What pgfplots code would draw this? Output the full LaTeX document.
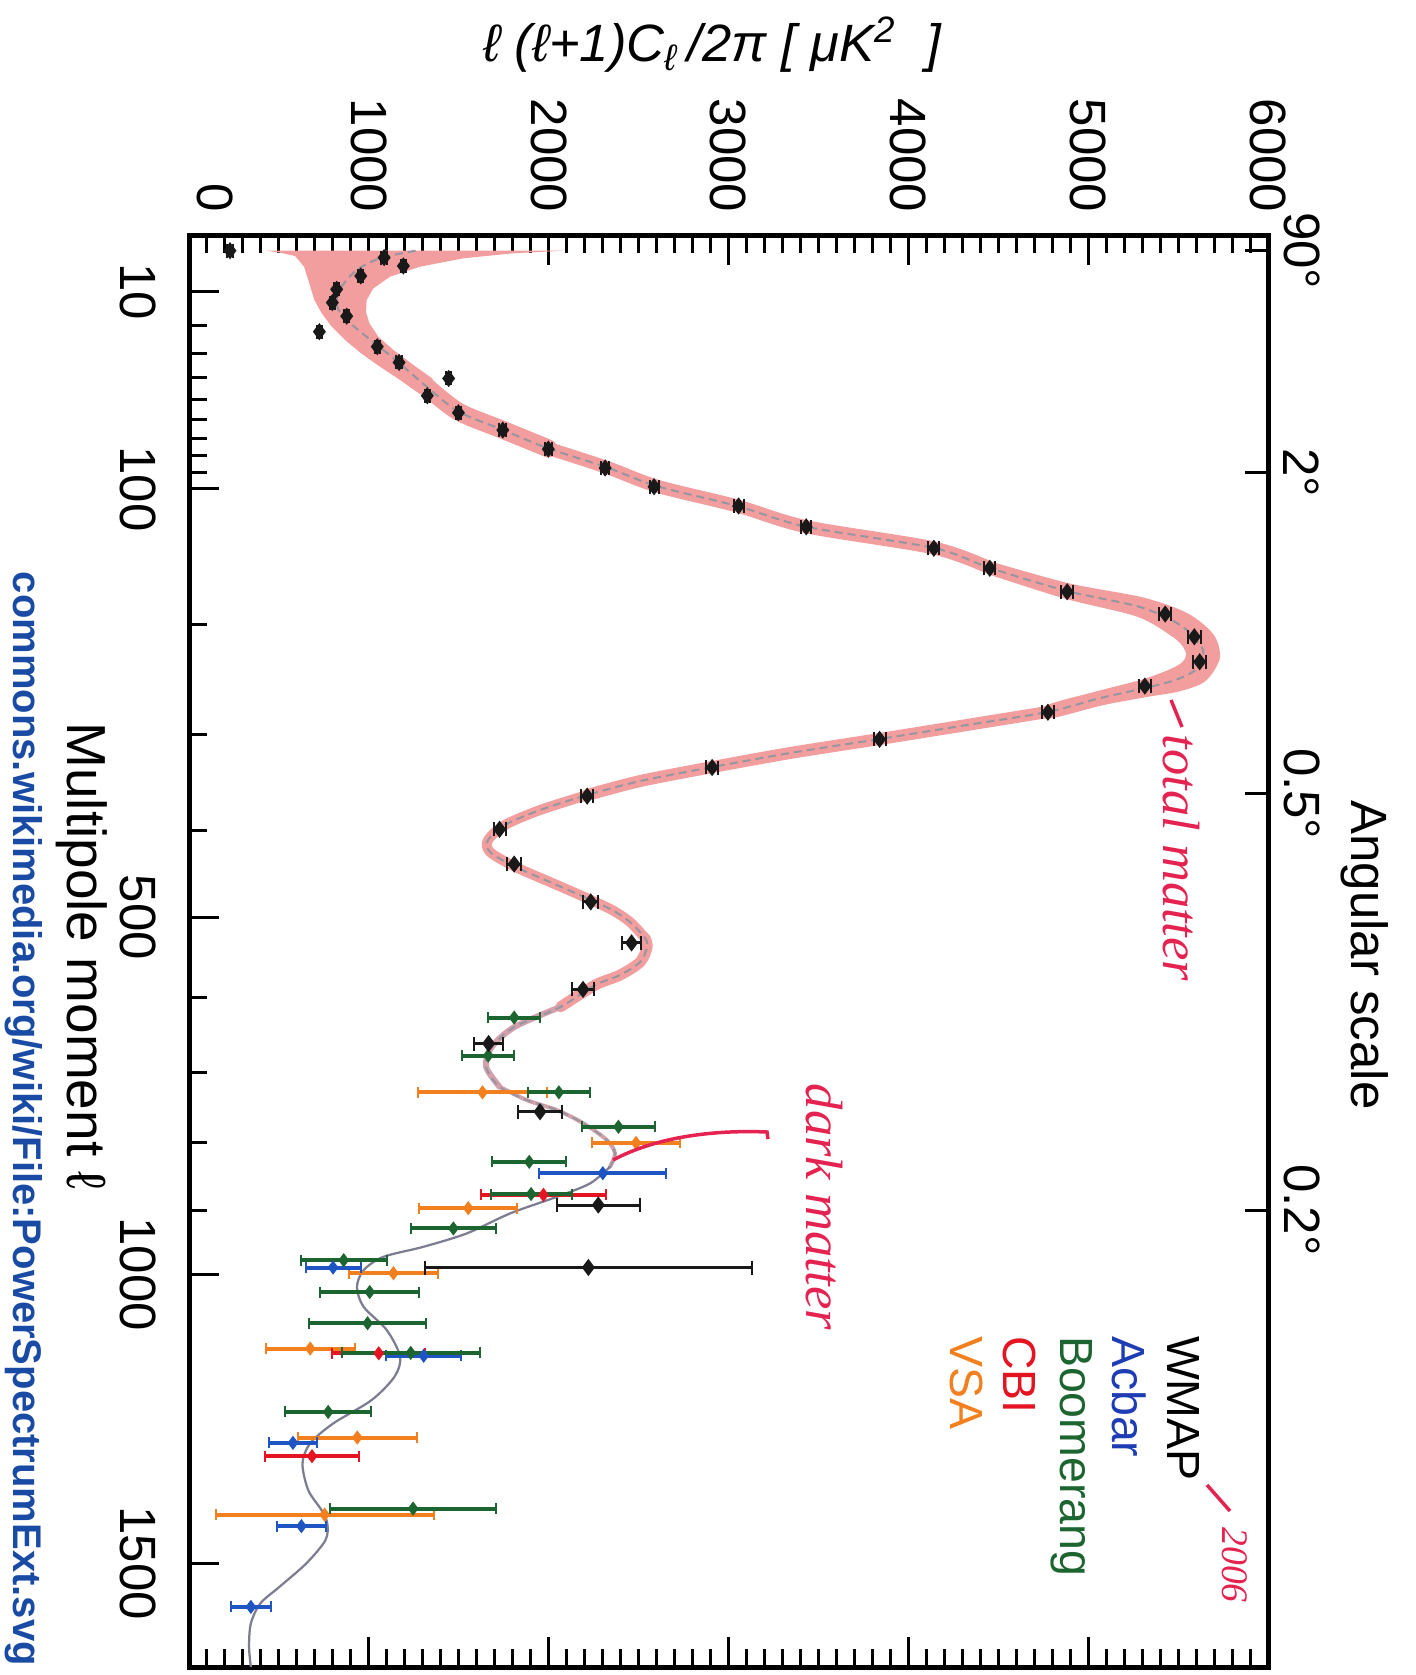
\documentclass[border=0pt]{standalone}
\usepackage{pgfplots}
\pgfplotsset{compat=1.18}
\usepackage{fontspec}
\setmainfont{Liberation Sans}
\newfontfamily\hand{Liberation Serif}
\definecolor{wmapc}{RGB}{25,25,25}
\definecolor{acbarc}{RGB}{30,85,195}
\definecolor{acbartxt}{RGB}{30,60,180}
\definecolor{boomc}{RGB}{28,100,48}
\definecolor{cbic}{RGB}{228,20,35}
\definecolor{vsac}{RGB}{242,128,30}
\definecolor{bandc}{RGB}{242,158,158}
\definecolor{bandthin}{RGB}{212,160,172}
\definecolor{modelc}{RGB}{125,125,145}
\definecolor{modeltop}{RGB}{150,150,160}
\definecolor{inkc}{RGB}{228,35,80}
\definecolor{urlc}{RGB}{25,75,165}
\newcommand\PX[2]{({((#1)-189)*0.2pt},{(235-(#2))*0.2pt})}
\begin{document}
\begin{tikzpicture}
\path[use as bounding box] \PX{0}{0} rectangle \PX{1415}{1675};
\begin{axis}[
  at={(0pt,0pt)}, anchor=north west,
  scale only axis, width=215.8pt, height=286.4pt,
  xmin=0, xmax=6000, ymin=0.394, ymax=1699,
  y dir=reverse,
  y coord trafo/.code={\pgfmathparse{(#1)^0.6}},
  axis line style={line width=1pt},
  xtick={0,1000,2000,3000,4000,5000,6000},
  xticklabels={\raisebox{1.7pt}[0pt][0pt]{0},1000,2000,3000,4000,5000,6000},
  minor x tick num=9,
  xticklabel pos=upper,
  ytick={10,100,500,1000,1500},
  yticklabels={10,100,500,1000,1500},
  minor ytick={20,30,40,50,60,70,80,90,200,300,400,600,700,800,900},
  ytick pos=left,
  tick align=inside,
  major tick length=6pt, minor tick length=3.6pt,
  tick style={black, line width=0.6pt},
  tick label style={font=\fontsize{10.2}{12}\selectfont},
  xticklabel style={rotate=-90, anchor=east},
  yticklabel style={rotate=-90, anchor=north},
  yticklabel shift=3pt,
  xticklabel shift=1pt,
  extra y ticks={2,90,360,900},
  extra y tick labels={90°,2°,0.5°,0.2°},
  extra y tick style={ytick pos=right, yticklabel pos=right, major tick length=4.6pt,
     yticklabel shift=-0.4pt, yticklabel style={anchor=south}},
  bandline/.style={bandc, line cap=round, line join=round, no markers, smooth},
]
% cosmic-variance band, low multipoles
\addplot[fill=bandc, draw=none] coordinates {
 (432,2) (2082,2) (1804,2.357) (1526,3.105) (1285,4.54) (1118,6.52) (1025,9.17) (988,12.19)
 (984,15.54) (1003,19.18) (1053,23.76) (1137,28.68) (1248,34.67) (1357,40.66)
 (1286,47.63) (1174,41.11) (1062,35.38) (957,29.96) (868,24.94) (794,20.30) (738,16.03)
 (697,12.19) (669,7.98) (640,4.54) (590,2.75) (506,2.27)
} -- cycle;
\addplot[bandline, line width=3.6pt] coordinates {(1322,44.1) (1498,56.0) (1748,65.6) (1998,75.7)};
\addplot[bandline, line width=2.6pt] coordinates {(1998,75.7) (2323,86.7) (2601,98.2) (3048,111) (3432,125) (4143,140.1) (4455,154.9)};
% band around the first peak
\addplot[fill=bandc, draw=none, smooth] coordinates {
 (4466,150.3) (4894,166.6) (5305,177.7) (5553,190.5) (5698,208.4) (5732,228.8) (5651,249.3)
 (5507,258.6) (5329,263.7) (5077,271.7) (4779,284.2)
 (4765,272.0) (5057,258.1) (5305,247.5) (5461,238.0) (5523,232.1) (5545,225.9) (5528,218.9)
 (5470,210.2) (5273,193.3) (4872,178.7) (4444,159.6)
} -- cycle;
\addplot[bandline, line width=2.4pt] coordinates {(4772,278.0) (4288,291.5) (3838,304.2) (3343,318.1) (2909,332.4) (2508,346.8) (2214,361.5)};
\addplot[bandline, line width=2pt] coordinates {(2214,361.5) (1952,377.5) (1757,393.7) (1663,410.3) (1674,423.7) (1813,440.4) (2008,458.1) (2195,475.3) (2353,491.1) (2453,505.6) (2536,525.1)};
\addplot[bandline, line width=2.2pt] coordinates {(2536,525.1) (2547,536.2) (2508,554.9) (2397,571.3) (2258,584.1) (2067,612.2)};
\addplot[bandline, bandthin, line width=1.2pt] coordinates {(2067,612.2) (1812,638.5) (1684,665.3) (1652,692.5) (1727,720.2)};
\addplot[bandline, bandthin, line width=0.8pt] coordinates {(1727,720.2) (1877,738.7) (2045,752.9) (2193,771.8) (2323,795.9) (2369,815.4) (2341,835.0)};
% model curve
\addplot[modeltop, line width=0.4pt, dash pattern=on 1.6pt off 1pt, smooth, no markers] coordinates {
 (1260,2) (1062,3.1) (933,5.17) (849,8.78) (821,13.1) (858,17.1) (988,23.8) (1137,31.9)
 (1322,44.1) (1498,56.0) (1748,65.6) (1998,75.7) (2323,86.7) (2601,98.2) (3048,111) (3432,125)
 (4143,140.1) (4455,154.9) (4883,172.6) (5289,185.4) (5512,200.2) (5623,217.2) (5640,225.9)
 (5595,239.2) (5484,248.2) (5317,255.5) (5067,264.8) (4772,278.0) (4288,291.5) (3838,304.2)
 (3343,318.1) (2909,332.4) (2508,346.8) (2214,361.5) (1952,377.5) (1757,393.7) (1663,410.3)
 (1674,423.7) (1813,440.4) (2008,458.1) (2195,475.3) (2353,491.1) (2453,505.6) (2536,525.1)
 (2547,536.2) (2508,554.9) (2397,571.3) (2258,584.1) (2067,612.2) (1812,638.5) (1684,665.3)
 (1652,692.5) (1727,720.2) (1877,738.7) (2045,752.9) (2193,771.8) (2323,795.9) (2369,815.4) (2341,835.0)};
\addplot[modelc, line width=0.45pt, smooth, no markers] coordinates {
 (2341,835.0) (2230,859.8) (2045,879.9) (1785,905.2) (1544,935.9) (1303,956.7) (1081,972.4)
 (971,993.4) (934,1020.1) (971,1052.2) (1100,1090.3) (1174,1134.5) (1142,1168.2) (1014,1208.0)
 (801,1248.2) (673,1283.0) (631,1318.4) (663,1366.0) (737,1402.2) (769,1426.5) (759,1457.2)
 (652,1500.6) (503,1544.5) (397,1575.9) (344,1614.2) (334,1659.5) (344,1699.3)};
% VSA
\addplot[vsac, only marks, mark=diamond*, mark size=1.1pt,
  error bars/.cd, x dir=both, x explicit, error bar style={line width=0.8pt}]
  table[x=P, y=l, x error=e] {
P l e
1632 727.9 357
2486 800.0 245
1553 897.1 273
1137 998.3 247
674 1120.8 248
936 1272.6 332
754 1410.5 606
};
% CBI
\addplot[cbic, only marks, mark=diamond*, mark size=1.1pt,
  error bars/.cd, x dir=both, x explicit, error bar style={line width=0.8pt}]
  table[x=P, y=l, x error=e] {
P l e
1971 877 348
1055 1128.6 260
684 1305.5 261
};
% Acbar
\addplot[acbarc, only marks, mark=diamond*, mark size=1.1pt,
  error bars/.cd, x dir=both, x explicit, error bar style={line width=0.8pt}]
  table[x=P, y=l, x error=e] {
P l e
2301 844.5 353
801 989.2 153
1305 1132.8 210
578 1282.0 135
625 1431.5 137
344 1582.6 113
};
% Boomerang
\addplot[boomc, only marks, mark=diamond*, mark size=1.1pt,
  error bars/.cd, x dir=both, x explicit, error bar style={line width=0.8pt}]
  table[x=P, y=l, x error=e] {
P l e
1808 626.3 146
1664 677.2 144
2057 727.9 170
2388 776.8 202
1892 827.8 207
1902 875.8 225
1470 928.2 236
860 977.7 240
1005 1028.3 276
993 1079.0 323
1233 1128.0 385
774 1228.1 239
1246 1399.3 463
};
% WMAP
\addplot[wmapc, only marks, mark=diamond*, mark size=1.4pt,
  error bars/.cd, x dir=both, x explicit, error bar style={line width=0.6pt}]
  table[x=P, y=l, x error=e] {
P l e
228 2 15
1085 3 15
1192 4.41 15
955 6.37 15
821 9.41 15
797 12.9 15
877 16.9 15
725 22.0 15
1047 27.4 15
1168 33.6 15
1444 40.4 15
1325 48.3 15
1498 56.6 15
1745 65.6 20
1998 76.1 20
2314 87.1 22
2586 98.6 25
3056 111.0 28
3432 125.1 28
4142 140.3 30
4453 155.1 30
4883 173.2 32
5428 191.1 33
5590 210.1 35
5620 231.8 35
5315 253.7 35
4776 278.2 33
3840 304.5 33
2909 332.8 35
2214 362.6 35
1727 398.5 33
1808 437.4 38
2234 481.4 43
2461 531.0 53
2191 589.6 61
1666 661.0 79
1952 755.3 121
2276 892.4 232
2221 989.2 910
};
\end{axis}
% titles and labels
\node[anchor=base, font=\fontsize{10.5}{12}\selectfont\itshape] at \PX{712}{62}
  {ℓ (ℓ+1)C\textsubscript{ℓ}\,/2π [ μK\textsuperscript{2}\ \ ]};
\node[rotate=-90, anchor=base, font=\fontsize{10.2}{12}\selectfont] at \PX{1351}{955} {Angular scale};
\node[rotate=-90, anchor=base, font=\fontsize{11}{13}\selectfont] at \PX{68}{956} {Multipole moment ℓ};
\node[rotate=-90, anchor=base west, inner sep=0pt, font=\fontsize{8}{10}\selectfont\bfseries, text=urlc] at \PX{14}{571}
  {commons.wikimedia.org/wiki/File:PowerSpectrumExt.svg};
% legend
\begin{scope}[every node/.style={rotate=-90, anchor=base west, inner sep=0pt, font=\fontsize{9.3}{11}\selectfont}]
\node[text=black] at \PX{1167}{1335} {WMAP};
\node[text=acbartxt] at \PX{1112}{1335} {Acbar};
\node[text=boomc] at \PX{1060}{1335} {Boomerang};
\node[text=cbic] at \PX{1003}{1335} {CBI};
\node[text=vsac] at \PX{950}{1335} {VSA};
\end{scope}
% handwritten notes
\draw[inkc, line width=0.7pt] \PX{1171}{700} -- \PX{1182}{727};
\node[rotate=-90, anchor=base, inkc, font=\hand\itshape\fontsize{10.5}{12}\selectfont] at \PX{1163}{858} {total matter};
\draw[inkc, line width=0.7pt] \PX{613}{1160} .. controls \PX{660}{1135} and \PX{720}{1130} .. \PX{767}{1132} -- \PX{768}{1139};
\node[rotate=-90, anchor=base, inkc, font=\hand\itshape\fontsize{10.5}{12}\selectfont] at \PX{806}{1207} {dark matter};
\draw[inkc, line width=0.7pt] \PX{1207}{1485} -- \PX{1230}{1511};
\node[rotate=-90, anchor=base, inkc, font=\hand\itshape\fontsize{7.5}{9}\selectfont] at \PX{1222}{1565} {2006};
\end{tikzpicture}
\end{document}
